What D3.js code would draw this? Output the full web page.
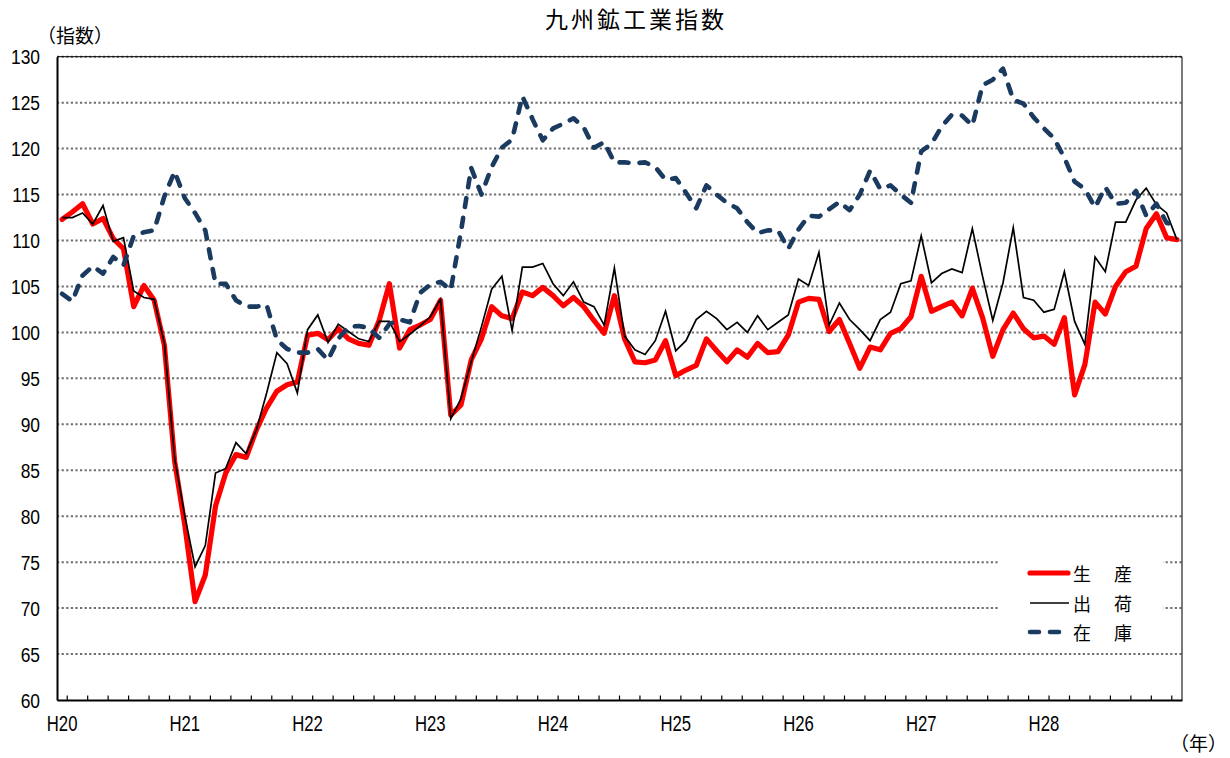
<!DOCTYPE html>
<html>
<head>
<meta charset="utf-8">
<script src="https://cdn.jsdelivr.net/npm/d3@7"></script>
<style>
  html, body { margin: 0; padding: 0; background: #fff; }
  svg { display: block; }
</style>
</head>
<body>
<div id="chart"></div>
<script>
// ---------------- data ----------------
const eras = ["H20", "H21", "H22", "H23", "H24", "H25", "H26", "H27", "H28", "H29"];
const monthCount = 110; // H20.1 .. H29.2
const categories = [];
eras.forEach(e => { for (let m = 1; m <= 12; m++) if (categories.length < monthCount) categories.push(e + "." + m); });

const yearLabels = ["H20", "H21", "H22", "H23", "H24", "H25", "H26", "H27", "H28"];
const yTickValues = [60, 65, 70, 75, 80, 85, 90, 95, 100, 105, 110, 115, 120, 125, 130];

// 生産 (production)
const production = [
  112.3, 113.1, 114.0, 111.8, 112.4, 110.2, 109.1, 102.8, 105.1, 103.5, 98.6, 86.0,
  79.0, 70.7, 73.6, 81.1, 84.7, 86.7, 86.4, 89.4, 91.8, 93.6, 94.3, 94.6,
  99.7, 99.9, 99.2, 100.4, 99.3, 98.8, 98.6, 101.3, 105.3, 98.3, 100.3, 100.8,
  101.4, 103.5, 91.0, 92.1, 97.0, 99.3, 102.8, 101.8, 101.5, 104.4, 104.0, 104.9,
  104.0, 102.9, 103.8, 102.8, 101.3, 99.9, 104.0, 99.3, 96.8, 96.7, 97.0, 99.1,
  95.3, 95.9, 96.4, 99.3, 98.0, 96.8, 98.1, 97.3, 98.8, 97.8, 97.9, 99.7,
  103.3, 103.7, 103.6, 100.1, 101.4, 98.8, 96.1, 98.4, 98.1, 99.9, 100.4, 101.7,
  106.1, 102.3, 102.8, 103.3, 101.8, 104.8, 101.6, 97.4, 100.3, 102.1, 100.4, 99.4,
  99.6, 98.7, 101.6, 93.2, 96.5, 103.3, 102.0, 105.0, 106.6, 107.2, 111.3, 112.9,
  110.3, 110.1
];
// 出荷 (shipments)
const shipments = [
  112.5, 112.5, 113.0, 111.8, 113.8, 109.9, 110.3, 104.5, 103.8, 103.6, 98.8, 86.3,
  80.0, 74.5, 76.8, 84.7, 85.2, 88.0, 86.8, 89.4, 93.4, 97.8, 96.6, 93.4,
  100.3, 101.9, 98.9, 100.9, 100.1, 99.3, 99.0, 101.2, 101.2, 99.0, 99.8, 100.7,
  101.7, 103.6, 90.6, 92.8, 96.8, 100.6, 104.7, 106.1, 100.2, 107.1, 107.1, 107.5,
  105.3, 104.0, 105.5, 103.3, 102.8, 100.8, 107.0, 99.6, 98.1, 97.6, 99.1, 102.3,
  98.0, 99.1, 101.4, 102.3, 101.5, 100.3, 101.1, 100.0, 101.8, 100.3, 101.1, 101.9,
  105.8, 105.1, 108.7, 100.8, 103.2, 101.4, 100.3, 99.1, 101.4, 102.2, 105.3, 105.6,
  110.5, 105.4, 106.4, 106.9, 106.5, 111.3, 106.1, 101.3, 105.4, 111.4, 103.8, 103.5,
  102.2, 102.5, 106.6, 101.2, 98.7, 108.2, 106.6, 112.0, 112.0, 114.4, 115.7, 113.9,
  113.0, 110.1
];
// 在庫 (inventory)
const inventory = [
  104.2, 103.4, 106.2, 107.2, 106.4, 108.2, 107.3, 110.5, 110.9, 111.1, 114.8, 117.5,
  114.6, 113.0, 111.1, 105.3, 105.3, 103.5, 102.8, 102.8, 103.0, 99.2, 98.2, 97.8,
  97.8, 98.2, 97.0, 99.3, 100.6, 100.7, 100.5, 99.4, 100.9, 101.4, 101.1, 104.3,
  105.2, 105.5, 104.6, 111.0, 117.9, 115.0, 118.0, 120.1, 121.0, 125.7, 123.2, 120.9,
  122.2, 122.7, 123.3, 122.3, 120.1, 120.7, 118.5, 118.5, 118.4, 118.5, 118.0, 116.6,
  116.8, 115.2, 113.5, 116.0, 115.0, 114.1, 113.5, 112.0, 110.8, 111.1, 111.1, 109.1,
  111.2, 112.7, 112.6, 113.4, 114.2, 113.3, 115.0, 117.6, 115.6, 116.0, 115.0, 114.1,
  119.7, 120.5, 122.4, 123.7, 123.6, 122.5, 126.9, 127.5, 128.7, 125.3, 124.9, 123.4,
  122.2, 121.1, 119.0, 116.4, 115.6, 113.6, 115.8, 114.0, 114.1, 115.4, 112.7, 114.0,
  111.9, 111.7
];

const seriesNames = ["生　産", "出　荷", "在　庫"];
const titleText = "九州鉱工業指数";

// ---------------- drawing ----------------
const W = 1230, H = 758;
const L = 57, R = 1182, T = 56.7, B = 700;

const svg = d3.select("#chart").append("svg").attr("width", W).attr("height", H);

const x = d3.scaleBand().domain(categories).range([L, R]).paddingInner(0).paddingOuter(0);
const cx = c => x(c) + x.bandwidth() / 2;
const y = d3.scaleLinear().domain([60, 130]).range([B, T]);

const latin = "'Liberation Sans', Arial, sans-serif";
const cjk = "'Noto Sans CJK JP', 'Noto Sans CJK SC', sans-serif";

// gridlines
svg.append("g").selectAll("line").data(yTickValues.filter(v => v > 60)).join("line")
  .attr("x1", L).attr("x2", R)
  .attr("y1", d => y(d)).attr("y2", d => y(d))
  .attr("stroke", "#6e6e6e").attr("stroke-width", 2).attr("stroke-dasharray", "2.2,2.4");

// top & right border
svg.append("line").attr("x1", L).attr("x2", R).attr("y1", T).attr("y2", T)
  .attr("stroke", "#000").attr("stroke-width", 1);
svg.append("line").attr("x1", R).attr("x2", R).attr("y1", T).attr("y2", B)
  .attr("stroke", "#222").attr("stroke-width", 1.2);

// y axis
const sxY = 0.87;
const yAxis = svg.append("g").attr("transform", `translate(${L},0)`)
  .call(d3.axisLeft(y).tickValues(yTickValues).tickSize(0).tickFormat(d3.format("d")));
yAxis.select(".domain").attr("stroke", "#000").attr("stroke-width", 2);
yAxis.selectAll("text")
  .attr("font-family", latin).attr("font-size", 20).attr("fill", "#000")
  .attr("text-anchor", "end").attr("dy", null)
  .attr("x", -17 / sxY).attr("y", 7.2)
  .attr("transform", `scale(${sxY},1)`);

// x axis
const sxX = 0.76;
const janCats = yearLabels.map(e => e + ".1");
const xAxis = svg.append("g").attr("transform", `translate(0,${B})`)
  .call(d3.axisBottom(x).tickValues(janCats).tickSize(0).tickFormat(d => d.split(".")[0]));
xAxis.select(".domain").attr("stroke", "#000").attr("stroke-width", 2);
xAxis.selectAll("text")
  .attr("font-family", latin).attr("font-size", 22).attr("fill", "#000")
  .attr("dy", null).attr("y", 31.5)
  .attr("transform", `scale(${sxX},1)`);

// minor ticks every 2 months (inside)
const minorCats = categories.filter((c, i) => i % 2 === 1);
svg.append("g").selectAll("line").data(minorCats).join("line")
  .attr("x1", d => x(d)).attr("x2", d => x(d))
  .attr("y1", B).attr("y2", B - 4.5)
  .attr("stroke", "#000").attr("stroke-width", 1.2);

// lines
const lineGen = vals => d3.line().x((d, i) => cx(categories[i])).y(d => y(d))(vals);

svg.append("path").attr("d", lineGen(production))
  .attr("fill", "none").attr("stroke", "#ff0000").attr("stroke-width", 5.2)
  .attr("stroke-linejoin", "round").attr("stroke-linecap", "round");
svg.append("path").attr("d", lineGen(shipments))
  .attr("fill", "none").attr("stroke", "#000").attr("stroke-width", 1.7)
  .attr("stroke-linejoin", "miter").attr("stroke-miterlimit", 10);
svg.append("path").attr("d", lineGen(inventory))
  .attr("fill", "none").attr("stroke", "#1b3a5f").attr("stroke-width", 4.6)
  .attr("stroke-dasharray", "9,11").attr("stroke-linecap", "round").attr("stroke-linejoin", "round");

// legend
const lg = svg.append("g");
lg.append("rect").attr("x", 999).attr("y", 540).attr("width", 164).attr("height", 108).attr("fill", "#fff");
const legendRows = [
  { name: seriesNames[0], y: 573, stroke: "#ff0000", w: 5.2, dash: null, cap: "round", x1: 1030, x2: 1068 },
  { name: seriesNames[1], y: 603, stroke: "#000", w: 1.7, dash: null, cap: "butt", x1: 1030, x2: 1069 },
  { name: seriesNames[2], y: 632, stroke: "#1b3a5f", w: 4.6, dash: "9,11", cap: "round", x1: 1030, x2: 1063 }
];
legendRows.forEach(r => {
  lg.append("line").attr("x1", r.x1).attr("x2", r.x2).attr("y1", r.y).attr("y2", r.y)
    .attr("stroke", r.stroke).attr("stroke-width", r.w).attr("stroke-linecap", r.cap)
    .attr("stroke-dasharray", r.dash);
  lg.append("text").attr("x", 1073).attr("y", r.y).attr("dominant-baseline", "central")
    .attr("font-family", cjk).attr("font-size", 18).attr("letter-spacing", "2.5px")
    .attr("fill", "#000").text(r.name);
});

// title
svg.append("text").attr("x", 636).attr("y", 27.5).attr("text-anchor", "middle")
  .attr("font-family", cjk).attr("font-size", 23).attr("letter-spacing", "3px")
  .attr("fill", "#000").text(titleText);

// axis unit labels
svg.append("text").attr("x", 37).attr("y", 43)
  .attr("font-family", cjk).attr("font-size", 19).attr("fill", "#000").text("（指数）");
svg.append("text").attr("x", 1170).attr("y", 751)
  .attr("font-family", cjk).attr("font-size", 19).attr("fill", "#000").text("（年）");
</script>
</body>
</html>
